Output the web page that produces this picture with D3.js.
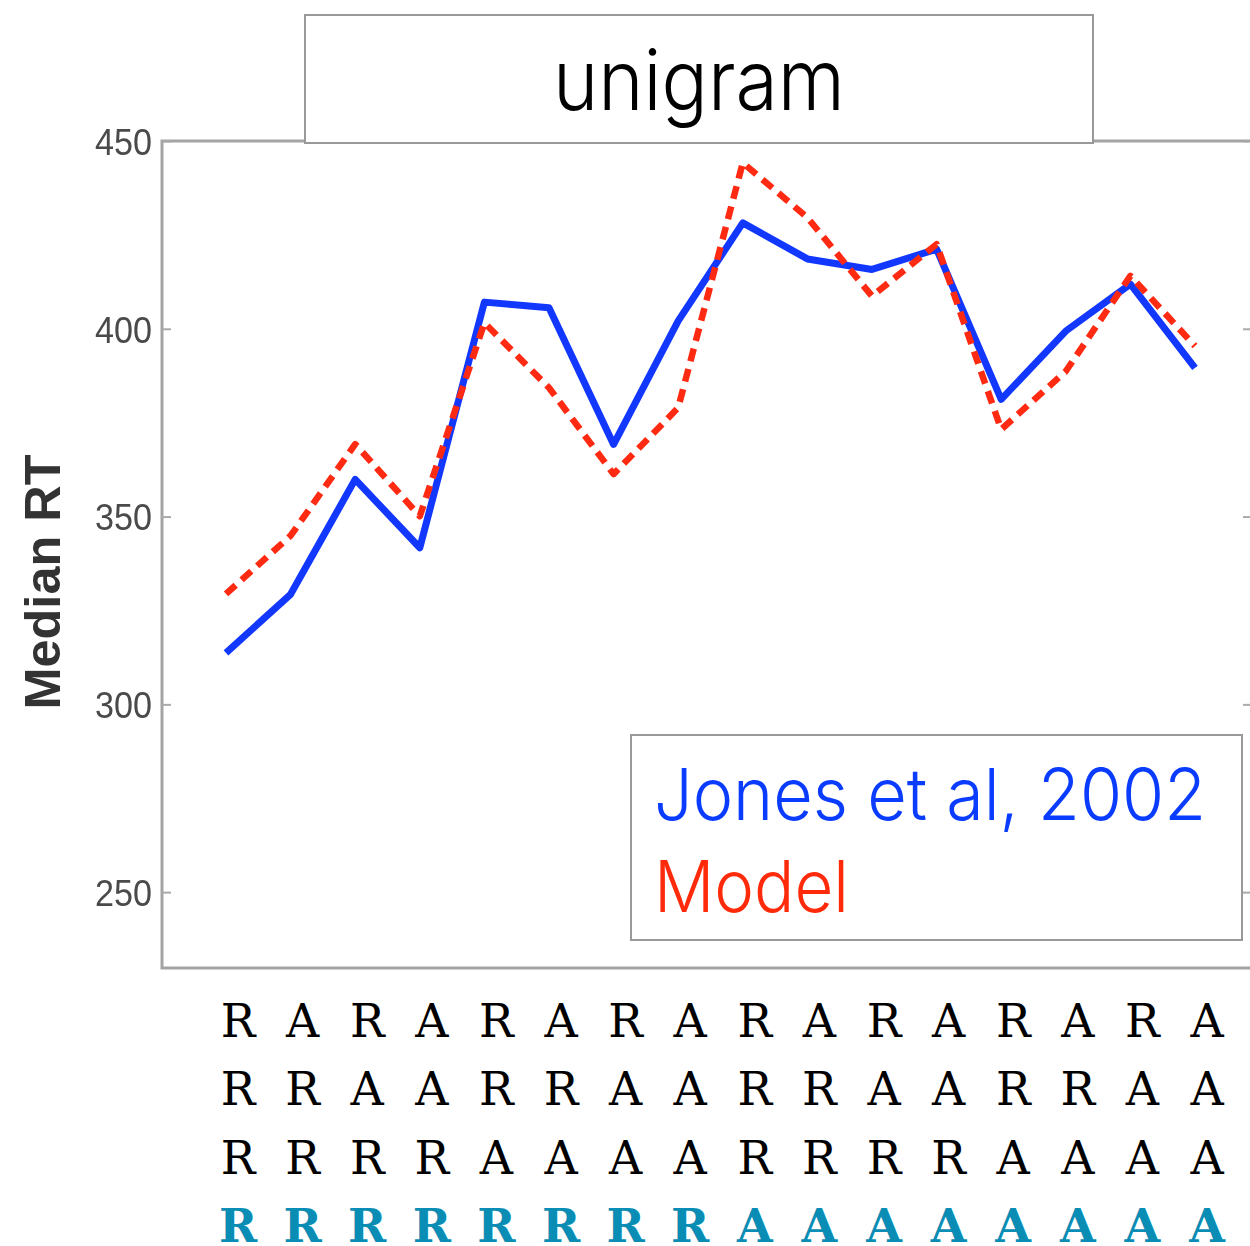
<!DOCTYPE html>
<html>
<head>
<meta charset="utf-8">
<script src="https://cdn.jsdelivr.net/npm/d3@7"></script>
<style>
  html, body { margin: 0; padding: 0; background: #fff; }
  svg { display: block; }
</style>
</head>
<body>
<svg id="chart" width="1250" height="1246"></svg>
<script>
// Median reaction times over the 16 response histories
const jonesRT = [313.7, 329.3, 359.9, 341.7, 407.1, 405.6, 369.2, 402.1,
                 428.2, 418.6, 415.8, 421.2, 381.2, 399.4, 411.9, 389.6];
const modelRT = [329.4, 344.9, 369.3, 350.1, 401.6, 384.3, 361.3, 379.0,
                 444.2, 429.6, 408.7, 422.5, 373.2, 388.7, 414.1, 395.4];

// History rows shown under the axis (oldest trial on top, current trial last)
const row1 = ["R","A","R","A","R","A","R","A","R","A","R","A","R","A","R","A"];
const row2 = ["R","R","A","A","R","R","A","A","R","R","A","A","R","R","A","A"];
const row3 = ["R","R","R","R","A","A","A","A","R","R","R","R","A","A","A","A"];
const row4 = ["R","R","R","R","R","R","R","R","A","A","A","A","A","A","A","A"];

const yTicks = [250, 300, 350, 400, 450];
const seriesNames = ["Jones et al, 2002", "Model"];
const titleText = "unigram";
const yLabel = "Median RT";

// Each category is one column of the history rows
const categories = row1.map((d, i) => row1[i] + row2[i] + row3[i] + row4[i] + "-" + i);

const svg = d3.select("#chart");

const plot = { left: 162, right: 1262, top: 141, bottom: 968 };
const lightFont = "Inter, 'Liberation Sans', Arial, sans-serif";

const x = d3.scalePoint()
  .domain(categories)
  .range([226, 1195]);

const y = d3.scaleLinear()
  .domain([229.8, 450])
  .range([plot.bottom, plot.top]);

// Plot frame (right edge runs past the canvas)
svg.append("rect")
  .attr("x", plot.left)
  .attr("y", plot.top)
  .attr("width", plot.right - plot.left)
  .attr("height", plot.bottom - plot.top)
  .attr("fill", "none")
  .attr("stroke", "#a3a3a3")
  .attr("stroke-width", 3);

// Left axis with inward ticks
const yAxis = svg.append("g")
  .attr("transform", `translate(${plot.left},0)`)
  .call(d3.axisLeft(y).tickValues(yTicks).tickSize(-9).tickPadding(10).tickFormat(d3.format("d")));
yAxis.select(".domain").remove();
yAxis.selectAll(".tick line").attr("stroke", "#aaa").attr("stroke-width", 2);
yAxis.selectAll(".tick text")
  .attr("fill", "#4a4a4a")
  .attr("font-family", "'Liberation Sans', Arial, sans-serif")
  .attr("font-size", 37)
  .attr("textLength", 57)
  .attr("lengthAdjust", "spacingAndGlyphs")
  .attr("dy", "0.36em")
  .style("filter", "blur(0.6px)");

// Matching inward ticks on the right side of the frame
const yAxisR = svg.append("g")
  .attr("transform", `translate(1251,0)`)
  .call(d3.axisRight(y).tickValues(yTicks).tickSize(-8).tickFormat(""));
yAxisR.select(".domain").remove();
yAxisR.selectAll(".tick line").attr("stroke", "#aaa").attr("stroke-width", 2);

// Y axis title
svg.append("text")
  .attr("transform", "translate(60,582) rotate(-90)")
  .attr("text-anchor", "middle")
  .attr("font-family", "'Liberation Sans', Arial, sans-serif")
  .attr("font-weight", "bold")
  .attr("font-size", 50)
  .attr("fill", "#333")
  .attr("textLength", 255)
  .attr("lengthAdjust", "spacingAndGlyphs")
  .style("filter", "blur(0.5px)")
  .text(yLabel);

// Series lines
const line = d3.line()
  .x((d, i) => x(categories[i]))
  .y(d => y(d));

svg.append("path")
  .datum(jonesRT)
  .attr("d", line)
  .attr("fill", "none")
  .attr("stroke", "#1238ff")
  .attr("stroke-width", 7)
  .attr("stroke-linejoin", "round")
  .style("filter", "blur(0.4px)");

svg.append("path")
  .datum(modelRT)
  .attr("d", line)
  .attr("fill", "none")
  .attr("stroke", "#ff2a12")
  .attr("stroke-width", 6.5)
  .attr("stroke-dasharray", "13 8")
  .attr("stroke-linejoin", "round")
  .style("filter", "blur(0.4px)");

// Title box
svg.append("rect")
  .attr("x", 305).attr("y", 15)
  .attr("width", 788).attr("height", 128)
  .attr("fill", "#fff")
  .attr("stroke", "#999")
  .attr("stroke-width", 2);
svg.append("text")
  .attr("x", 699).attr("y", 110)
  .attr("text-anchor", "middle")
  .attr("font-family", lightFont)
  .attr("font-weight", 300)
  .attr("font-size", 84)
  .attr("fill", "#000")
  .attr("textLength", 292)
  .attr("lengthAdjust", "spacingAndGlyphs")
  .text(titleText);

// Legend box
svg.append("rect")
  .attr("x", 631).attr("y", 735)
  .attr("width", 611).attr("height", 205)
  .attr("fill", "#fff")
  .attr("stroke", "#999")
  .attr("stroke-width", 2);
const legendColors = ["#0a3cff", "#ff2a0a"];
const legendWidths = [552, 195];
seriesNames.forEach((name, i) => {
  svg.append("text")
    .attr("x", 654)
    .attr("y", 820 + i * 92)
    .attr("font-family", lightFont)
    .attr("font-weight", 300)
    .attr("font-size", 72)
    .attr("fill", legendColors[i])
    .attr("textLength", legendWidths[i])
    .attr("lengthAdjust", "spacingAndGlyphs")
    .text(name);
});

// History letters under the axis
const rows = [row1, row2, row3, row4];
const rowBaselines = [1037, 1105, 1174, 1242];
rows.forEach((row, r) => {
  const last = r === rows.length - 1;
  svg.append("g")
    .selectAll("text")
    .data(row)
    .join("text")
    .attr("x", (d, i) => x(categories[i]) + 12)
    .attr("y", rowBaselines[r])
    .attr("text-anchor", "middle")
    .attr("font-family", "'DejaVu Serif', serif")
    .attr("font-weight", last ? "bold" : "normal")
    .attr("font-size", 46)
    .attr("fill", last ? "#0a8db5" : "#000")
    .text(d => d);
});
</script>
</body>
</html>
